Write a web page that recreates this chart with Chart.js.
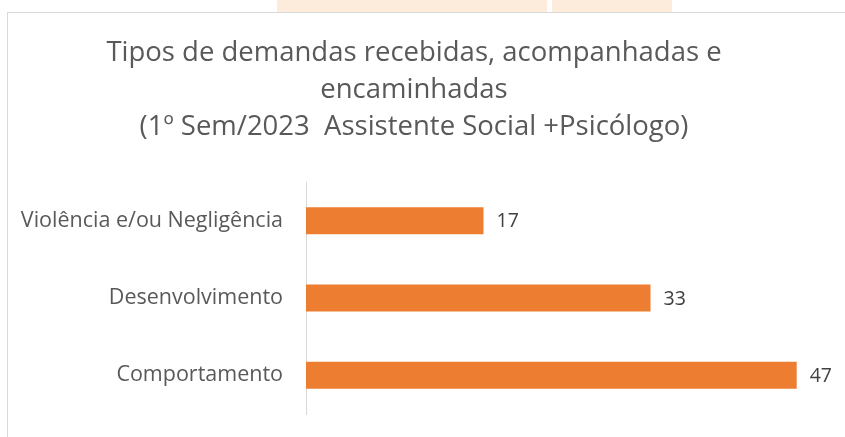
<!DOCTYPE html>
<html>
<head>
<meta charset="utf-8">
<script src="https://cdn.jsdelivr.net/npm/chart.js@4.4.0/dist/chart.umd.min.js"></script>
<style>
  html, body { margin: 0; padding: 0; background: #fff; }
  #page { position: relative; width: 845px; height: 437px; overflow: hidden; }
  .mark { position: absolute; top: 0; height: 12px; background: #fdebdb; }
  #box { position: absolute; left: 7px; top: 12px; width: 900px; height: 500px;
         border: 1px solid #d9d9d9; background: #fff; }
  #wrap { position: absolute; left: 0; top: 0; width: 845px; height: 437px; }
</style>
</head>
<body>
<div id="page">
  <div class="mark" style="left:277px;width:270px"></div>
  <div class="mark" style="left:552px;width:120px"></div>
  <div id="box"></div>
  <div id="wrap"><canvas id="chart1"></canvas></div>
</div>
<script>
const categories = ['Violência e/ou Negligência', 'Desenvolvimento', 'Comportamento'];
const values = [17, 33, 47];
const titleLines = [
  'Tipos de demandas recebidas, acompanhadas e',
  'encaminhadas',
  '(1º Sem/2023  Assistente Social +Psicólogo)'
];

const FONT = "'Open Sans', 'Noto Sans', sans-serif";

// value labels at bar ends
const valueLabels = {
  id: 'valueLabels',
  afterDatasetsDraw(chart) {
    const { ctx } = chart;
    const meta = chart.getDatasetMeta(0);
    ctx.save();
    ctx.font = '19.5px ' + FONT;
    ctx.fillStyle = '#404040';
    ctx.textAlign = 'left';
    ctx.textBaseline = 'middle';
    meta.data.forEach((bar, i) => {
      ctx.fillText(String(values[i]), bar.x + 13, bar.y + 1);
    });
    ctx.restore();
  }
};

new Chart(document.getElementById('chart1').getContext('2d'), {
  type: 'bar',
  data: {
    labels: categories,
    datasets: [{
      data: values,
      backgroundColor: '#ED7D31',
      barPercentage: 0.35,
      categoryPercentage: 1,
    }],
  },
  options: {
    indexAxis: 'y',
    responsive: true,
    maintainAspectRatio: false,
    animation: false,
    layout: { padding: { left: 0, right: 17, bottom: 23, top: 0 } },
    plugins: {
      legend: { display: false },
      tooltip: { enabled: false },
      title: {
        display: true,
        text: titleLines,
        color: '#595959',
        font: { family: FONT, size: 27.5, weight: 'normal', lineHeight: 37 / 27.5 },
        padding: { top: 35, bottom: 36 },
      },
    },
    scales: {
      x: {
        display: false,
        min: 0,
        max: 50,
      },
      y: {
        grid: { display: false, drawTicks: false },
        border: { display: true, color: '#d9d9d9', width: 1 },
        ticks: { color: '#595959', padding: 23, font: { family: FONT, size: 21.5 } },
        afterFit(scale) {
          scale.width = 306;
          scale.paddingTop = 0;
          scale.paddingBottom = 0;
        },
      },
    },
  },
  plugins: [valueLabels],
});
</script>
</body>
</html>
